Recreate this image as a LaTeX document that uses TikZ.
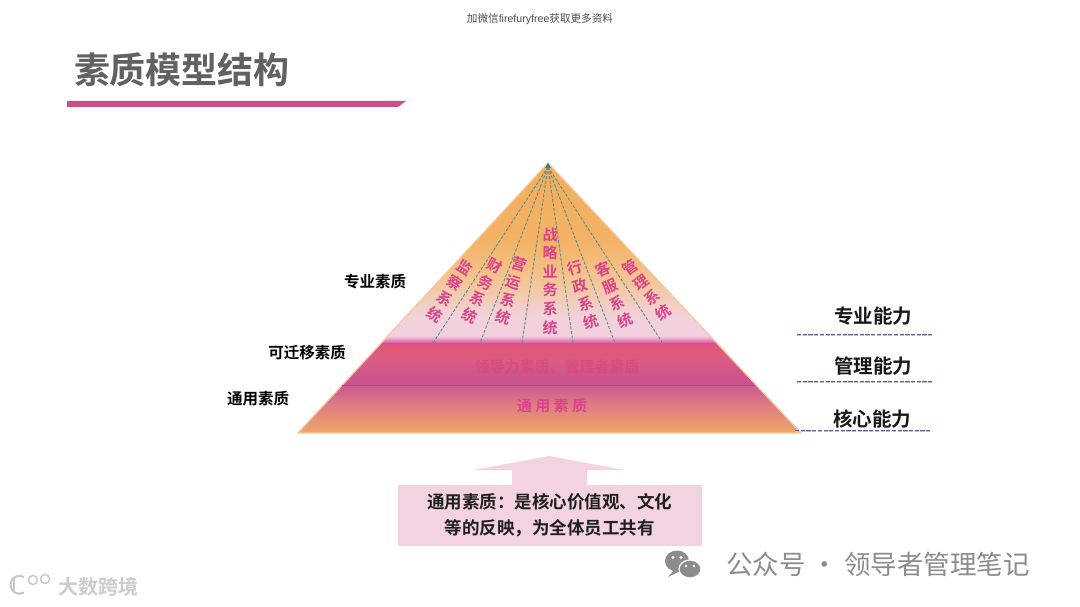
\documentclass[tikz,border=0pt]{standalone}
\usepackage{fontspec}
\setmainfont{Noto Sans CJK SC}[BoldFont={Noto Sans CJK SC Bold}]
\newfontfamily\latinf{Liberation Sans}
\definecolor{syspink}{HTML}{D8438C}
\definecolor{capblue}{HTML}{5A6295}
\definecolor{capdouble}{HTML}{B9BDD4}
\definecolor{boxpink}{HTML}{F3D3E2}
\definecolor{barpink}{HTML}{C94F88}
\definecolor{wmgray}{HTML}{8C8C8C}
\definecolor{dashteal}{HTML}{5C8C84}
\definecolor{ca}{HTML}{F3AE5E}
\definecolor{cb}{HTML}{F3B264}
\definecolor{cc}{HTML}{F4C594}
\definecolor{cd}{HTML}{F1D2DA}
\definecolor{ce}{HTML}{F3CFE0}
\definecolor{cf}{HTML}{D94F98}
\definecolor{cg}{HTML}{E25773}
\definecolor{ch}{HTML}{D85C85}
\definecolor{ci}{HTML}{C8508F}
\definecolor{cj}{HTML}{C9588F}
\definecolor{ck}{HTML}{DB7488}
\definecolor{cl}{HTML}{F0A868}
\definecolor{edgepale}{HTML}{F3C9A0}
\newcommand{\bandrect}[4]{\shade[top color=#3,bottom color=#4] (285,#1) rectangle (815,#2);}
\begin{document}
\begin{tikzpicture}[x=1pt,y=-1pt,
  sysdash/.style={draw=dashteal,line width=.9pt,dash pattern=on 3pt off 1.6pt},
  syslabel/.style={font=\bfseries\fontsize{15}{18.6}\selectfont,text=syspink,align=center,inner sep=0pt},
  sidelabel/.style={font=\bfseries\fontsize{15.5}{18}\selectfont,text=black,inner sep=0pt},
  caplabel/.style={font=\bfseries\fontsize{19.5}{22}\selectfont,text=black!90,inner sep=0pt},
  capline/.style={draw=capblue,double=capdouble,line width=.8pt,double distance=.9pt,dash pattern=on 4.2pt off 1.5pt}]
\useasboundingbox (0,0) rectangle (1080,607);
\fill[white] (0,0) rectangle (1080,607);

% header
\node[font=\fontsize{10.6}{12}\selectfont,text=black!70,inner sep=0pt] (hdr) at (540,19) {加微信{\latinf firefuryfree}获取更多资料};
\node[font=\bfseries\fontsize{36}{40}\selectfont,text=black!62,inner sep=0pt] (title) at (182,70) {素质模型结构};
\fill[barpink] (67,101) -- (406,101) -- (398,107) -- (67,107) -- cycle;

% pyramid
\coordinate (apex) at (548,163);
\coordinate (bl) at (298,433);
\coordinate (br) at (801,433);
\begin{scope}
\clip (apex) -- (br) -- (bl) -- cycle;
\bandrect{160}{240.5}{ca}{cb}
\bandrect{240}{280.5}{cb}{cc}
\bandrect{280}{315.5}{cc}{cd}
\bandrect{315}{336.5}{cd}{ce}
\bandrect{336}{343.5}{ce}{cf}
\bandrect{343}{348.5}{cf}{cg}
\bandrect{348}{360.5}{cg}{ch}
\bandrect{360}{385.5}{ch}{ci}
\bandrect{385}{400.5}{cj}{ck}
\bandrect{400}{433}{ck}{cl}
\end{scope}
\draw[edgepale,line width=1.2pt] (apex) -- (br) -- (bl) -- cycle;
\fill[teal!70!gray] (548,163) -- (551,168) -- (545,168) -- cycle;

% divider
\coordinate (divl) at (342,385.5);
\coordinate (divr) at (755,385.5);
\draw[draw=black!55!magenta!70!gray,line width=.8pt] (divl) -- (divr);

% dashed system lines
\coordinate (dapex) at (548,167);
\coordinate (f1) at (433,343);
\coordinate (f2) at (480,343);
\coordinate (f3) at (522,343);
\coordinate (f4) at (573,343);
\coordinate (f5) at (615,343);
\coordinate (f6) at (662,342);
\foreach \f in {f1,f2,f3,f4,f5,f6} \draw[sysdash] (dapex) -- (\f);

% system labels
\node[syslabel,rotate=-33] (s1) at (450,291) {监\\察\\系\\统};
\node[syslabel,rotate=-27] (s2) at (482,291) {财\\务\\系\\统};
\node[syslabel,rotate=-17] (s3) at (511,291) {营\\运\\系\\统};
\node[syslabel] (s4) at (550,281) {战\\略\\业\\务\\系\\统};
\node[syslabel,rotate=17] (s5) at (583,295) {行\\政\\系\\统};
\node[syslabel,rotate=23] (s6) at (614,295) {客\\服\\系\\统};
\node[syslabel,rotate=36] (s7) at (647,290) {管\\理\\系\\统};

\node[font=\bfseries\fontsize{15}{18}\selectfont,text=syspink!90!orange,inner sep=0pt,opacity=.85] (lead) at (557,367) {领导力素质、管理者素质};
\node[font=\bfseries\fontsize{15}{18}\selectfont,text=syspink,inner sep=0pt] (gen) at (552,406) {通 用 素 质};

% left labels
\node[sidelabel] (l1) at (375,282) {专业素质};
\node[sidelabel] (l2) at (307,353) {可迁移素质};
\node[sidelabel] (l3) at (258,399) {通用素质};

% right labels
\node[caplabel] (r1) at (873,316) {专业能力};
\node[caplabel] (r2) at (873,366) {管理能力};
\node[caplabel] (r3) at (872,419) {核心能力};
\coordinate (a1) at (797,335); \coordinate (b1) at (932,335);
\coordinate (a2) at (797,382); \coordinate (b2) at (932,382);
\coordinate (a3) at (795,431); \coordinate (b3) at (931,431);
\draw[capline] (a1) -- (b1);
\draw[capline] (a2) -- (b2);
\draw[capline] (a3) -- (b3);

% arrow and box
\fill[boxpink] (474,470) -- (549,456) -- (624,470) -- (587,470) -- (587,486) -- (512,486) -- (512,470) -- cycle;
\node[fill=boxpink,minimum width=304pt,minimum height=61pt,inner sep=0pt,
      font=\bfseries\fontsize{17.5}{26}\selectfont,text=black!88,align=center] (box) at (549.5,515.5)
      {通用素质：是核心价值观、文化\\等的反映，为全体员工共有};

% watermarks
\begin{scope}[wmgray]
\fill (677,561) ellipse (12pt and 10.5pt);
\fill (674,570) -- (668,577) -- (680,571) -- cycle;
\fill[white] (673,557.5) circle (1.6pt) (681,557.5) circle (1.6pt);
\draw[white,line width=1.2pt,fill=wmgray] (690,569) ellipse (11pt and 9pt);
\fill[white] (686,566) circle (1.4pt) (694,566) circle (1.4pt);
\end{scope}
\node[font=\fontsize{26.5}{30}\selectfont,text=wmgray,inner sep=0pt] (wx) at (878,564) {公众号 · 领导者管理笔记};

\begin{scope}[black!22,line width=2pt]
\draw (14,578) -- (14,593);
\draw (24,577) arc[start angle=60,end angle=300,radius=9pt];
\draw[line width=1.4pt] (33,580) circle (4.5pt) (45,579) circle (4.5pt);
\end{scope}
\node[font=\bfseries\fontsize{20}{22}\selectfont,text=black!20,inner sep=0pt] (kj) at (98,587) {大数跨境};
\end{tikzpicture}
\end{document}
